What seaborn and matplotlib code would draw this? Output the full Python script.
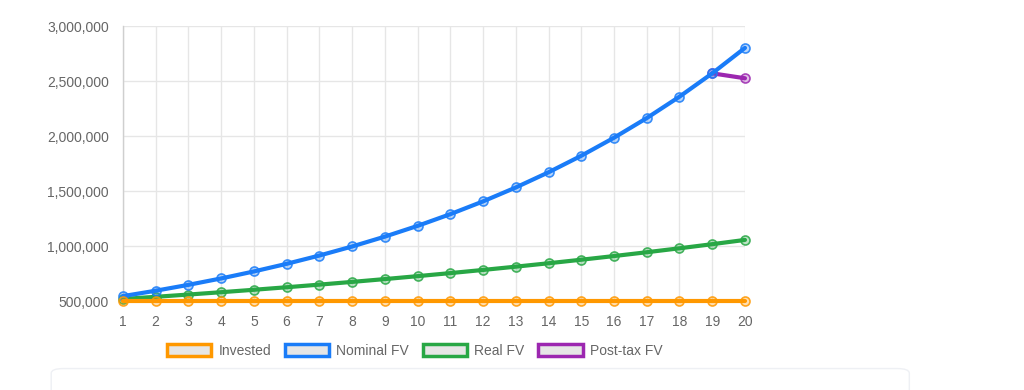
import numpy as np
import pandas as pd
import matplotlib
matplotlib.use("Agg")
import matplotlib.pyplot as plt
import seaborn as sns
from matplotlib.patches import Patch, FancyBboxPatch
from matplotlib.ticker import FuncFormatter, MultipleLocator

years = list(range(1, 21))
invested = [500000] * 20
nominal_fv = [545000, 594050, 647515, 705791, 769312, 838550, 914020, 996282,
              1085947, 1183682, 1290214, 1406334, 1532904, 1670866, 1821244,
              1985156, 2163820, 2358564, 2570835, 2802211]
real_fv = [519048, 538821, 559347, 580655, 602775, 625738, 649575, 674321,
           700009, 726675, 754358, 783095, 812927, 843895, 876043, 909415,
           944059, 980024, 1017358, 1056114]
post_tax_fv = [np.nan] * 18 + [2570835, 2526000]

labels = ["Invested", "Nominal FV", "Real FV", "Post-tax FV"]
colors = ["#ff9800", "#1a7cf8", "#28a745", "#9c27b0"]

sns.set_theme(style="white")
plt.rcParams['font.family'] = ['Liberation Sans', 'DejaVu Sans']

fig = plt.figure(figsize=(10.24, 3.90), dpi=100)
ax = fig.add_axes([0.120, 0.228, 0.6075, 0.705])

df = pd.DataFrame({"year": years, "Invested": invested, "Nominal FV": nominal_fv,
                   "Real FV": real_fv, "Post-tax FV": post_tax_fv})

# draw in reverse order so first dataset is on top (like Chart.js)
for i in reversed(range(4)):
    lab, col = labels[i], colors[i]
    rgb = matplotlib.colors.to_rgb(col)
    sns.lineplot(data=df, x="year", y=lab, ax=ax, color=col, linewidth=3,
                 marker="o", markersize=6.5, markerfacecolor=(*rgb, 0.3),
                 markeredgecolor=(*rgb, 0.85), markeredgewidth=1.2, zorder=3 + (4 - i),
                 clip_on=False, legend=False)

ax.set_xlim(1, 20)
ax.set_ylim(500000, 3000000)
ax.set_xticks(years)
ax.yaxis.set_major_locator(MultipleLocator(500000))
ax.yaxis.set_major_formatter(FuncFormatter(lambda v, p: f"{int(v):,}"))
ax.set_xlabel("")
ax.set_ylabel("")
ax.grid(True, color="#e6e6e6", linewidth=1)
for s in ["top", "right", "bottom"]:
    ax.spines[s].set_visible(False)
ax.spines["left"].set_color("#cfcfcf")
ax.spines["left"].set_linewidth(1)
ax.tick_params(axis="y", length=7, color="#e6e6e6", pad=3, labelsize=10, labelcolor="#666666")
ax.tick_params(axis="x", length=0, pad=10, labelsize=10, labelcolor="#666666")

handles = [Patch(facecolor="#e6e6e6", edgecolor=c, linewidth=2.5, label=l)
           for l, c in zip(labels, colors)]
leg = fig.legend(handles=handles, loc="center", bbox_to_anchor=(0.405, 0.10), ncol=4,
                 frameon=False, fontsize=10, handlelength=3.2, handleheight=1.0,
                 handletextpad=0.5, columnspacing=1.0, labelcolor="#666666")

card = FancyBboxPatch((0.05, -0.05), 0.838, 0.105, transform=fig.transFigure,
                      boxstyle="round,pad=0,rounding_size=0.012",
                      facecolor="white", edgecolor="#eef0f4", linewidth=1)
fig.patches.append(card)

fig.savefig("out.png", dpi=100)
